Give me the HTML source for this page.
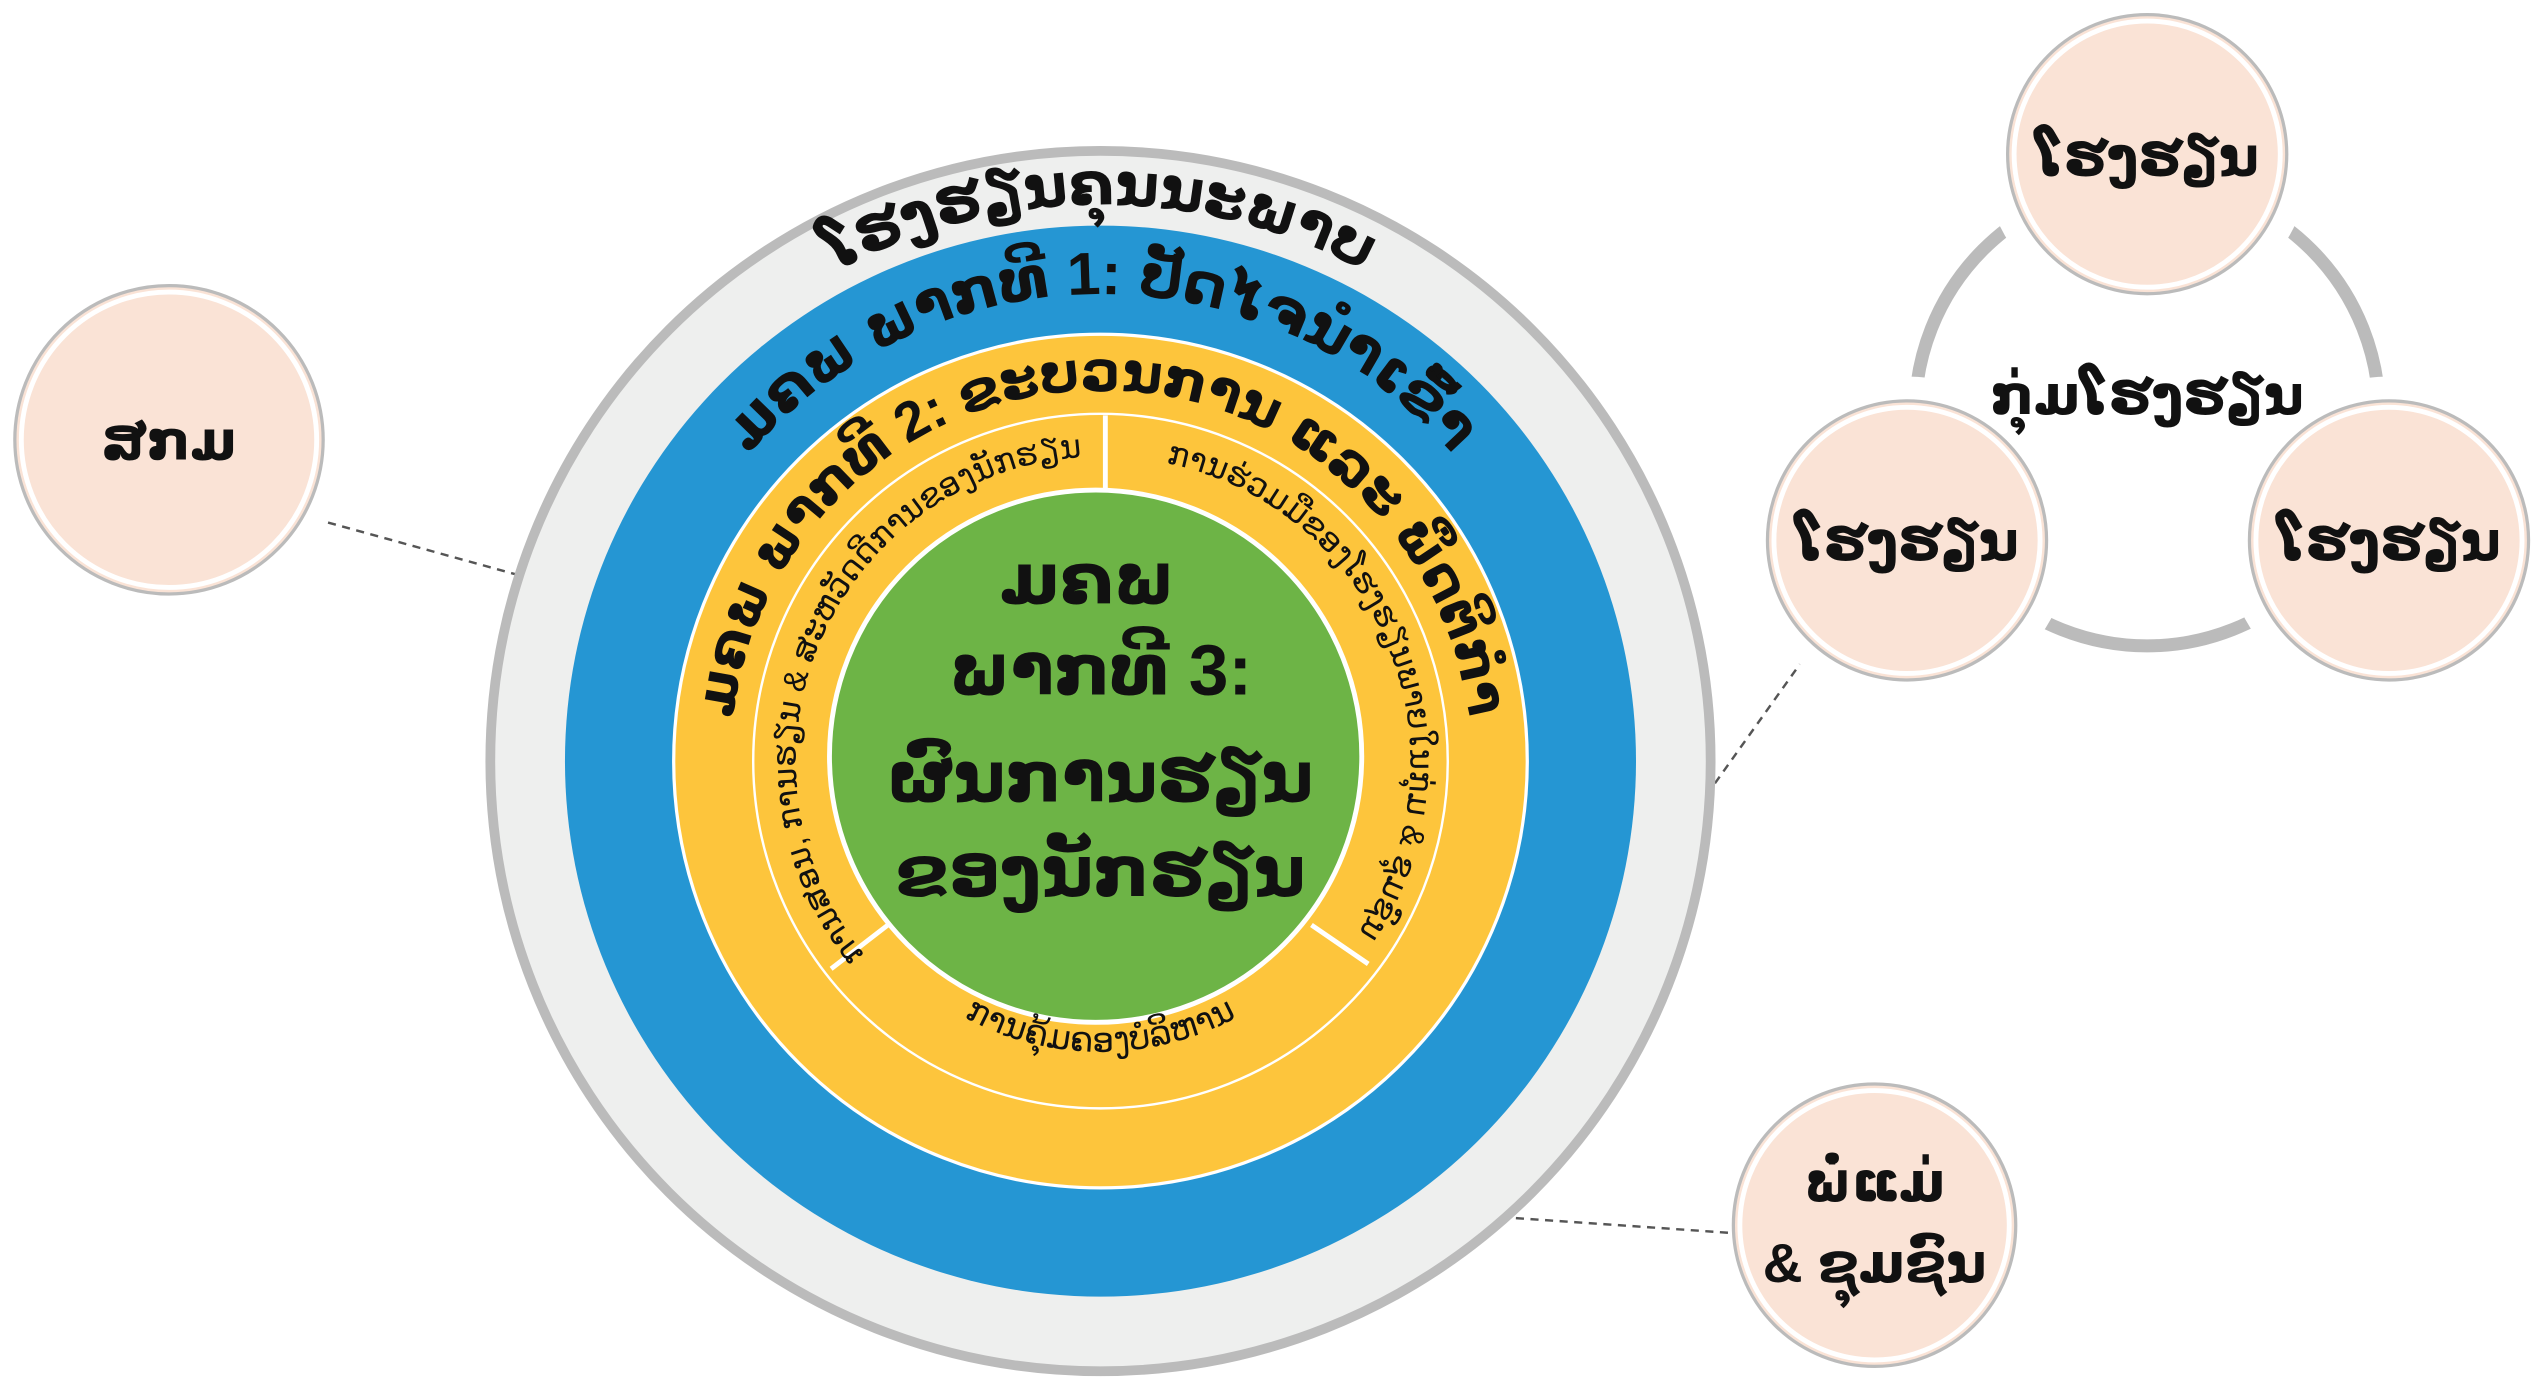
<!DOCTYPE html>
<html><head><meta charset="utf-8"><style>
html,body{margin:0;padding:0;background:#fff;}
svg{display:block;}
text{font-family:"Liberation Sans","DejaVu Sans","Noto Sans CJK SC",sans-serif;}
</style></head><body>
<svg width="2545" height="1381" viewBox="0 0 1568 851" xmlns="http://www.w3.org/2000/svg">
<defs>
<path id="p0" d="M381,297.5 A343,343 0 0 1 975,297.5"/>
<path id="p1" d="M400,394 A288,288 0 0 1 956,394"/>
<path id="p2" d="M464,547 A228,228 0 1 1 892,547"/>
<path id="p3" d="M530,585 A188,188 0 0 1 662,282"/>
<path id="p4" d="M694,282 A188,188 0 0 1 822,594"/>
<path id="p5" d="M552,595 A176,176 0 0 0 804,595"/>
</defs>
<g stroke="#555" stroke-width="1.5" stroke-dasharray="5,4" fill="none">
<line x1="202" y1="322" x2="318" y2="354"/>
<line x1="1117" y1="398" x2="1055" y2="485"/>
<line x1="925" y1="750" x2="1070" y2="760"/>
</g>
<circle cx="678" cy="469" r="376" fill="#eeefee" stroke="#bbbbbb" stroke-width="6"/>
<circle cx="678" cy="469" r="330" fill="#2596d3"/>
<circle cx="678" cy="469" r="263" fill="#fdc53c" stroke="#fff" stroke-width="2"/>
<circle cx="678" cy="469" r="214" fill="none" stroke="#fff" stroke-width="1.5"/>
<g stroke="#fff" stroke-width="3">
<line x1="681" y1="256" x2="681" y2="302"/>
<line x1="512" y1="597" x2="547" y2="570"/>
<line x1="808" y1="570" x2="843" y2="594"/>
</g>
<circle cx="675" cy="466" r="164" fill="#6db446" stroke="#fff" stroke-width="3"/>
<text font-size="37" font-weight="bold" fill="#111"><textPath href="#p0" startOffset="50%" text-anchor="middle">ໂຮງຮຽນຄຸນນະພາບ</textPath></text>
<text font-size="37" font-weight="bold" fill="#111"><textPath href="#p1" startOffset="50%" text-anchor="middle">ມຄພ ພາກທີ 1: ປັດໄຈນຳເຂົ້າ</textPath></text>
<text font-size="34" font-weight="bold" fill="#111"><textPath href="#p2" startOffset="50%" text-anchor="middle">ມຄພ ພາກທີ 2: ຂະບວນການ ແລະ ພຶດຕິກຳ</textPath></text>
<text font-size="20" fill="#111"><textPath href="#p3" startOffset="50%" text-anchor="middle">ການສອນ, ການຮຽນ &amp; ສະຫວັດດີການຂອງນັກຮຽນ</textPath></text>
<text font-size="20" fill="#111"><textPath href="#p4" startOffset="50%" text-anchor="middle">ການຮ່ວມມືຂອງໂຮງຮຽນພາຍໃນກຸ່ມ &amp; ຊຸມຊົນ</textPath></text>
<text font-size="21" fill="#111"><textPath href="#p5" startOffset="50%" text-anchor="middle">ການຄຸ້ມຄອງບໍລິຫານ</textPath></text>
<g font-size="44" font-weight="bold" fill="#111" text-anchor="middle">
<text x="670" y="372">ມຄພ</text>
<text x="678" y="428">ພາກທີ 3:</text>
<text x="678" y="494">ຜົນການຮຽນ</text>
<text x="678" y="552">ຂອງນັກຮຽນ</text>
</g>
<circle cx="1323" cy="255" r="143" fill="none" stroke="#bbbbbb" stroke-width="8"/>
<g fill="#fff" stroke="#fff" stroke-width="2">
<circle cx="1323" cy="95" r="100"/>
<circle cx="1175" cy="333" r="100"/>
<circle cx="1472" cy="333" r="100"/>
</g>
<g fill="#fae3d6" stroke="#bbbbbb" stroke-width="2">
<circle cx="104" cy="271" r="95"/>
<circle cx="1323" cy="95" r="86"/>
<circle cx="1175" cy="333" r="86"/>
<circle cx="1472" cy="333" r="86"/>
<circle cx="1155" cy="755" r="87"/>
</g>
<g fill="none" stroke="#fff" stroke-width="3">
<circle cx="104" cy="271" r="91"/>
<circle cx="1323" cy="95" r="82"/>
<circle cx="1175" cy="333" r="82"/>
<circle cx="1472" cy="333" r="82"/>
<circle cx="1155" cy="755" r="83"/>
</g>
<g font-size="34" font-weight="bold" fill="#111" text-anchor="middle">
<text x="104" y="283">ສກມ</text>
<text x="1323" y="108">ໂຮງຮຽນ</text>
<text x="1175" y="345">ໂຮງຮຽນ</text>
<text x="1472" y="345">ໂຮງຮຽນ</text>
<text x="1323" y="255">ກຸ່ມໂຮງຮຽນ</text>
<text x="1155" y="740">ພໍ່ແມ່</text>
<text x="1155" y="790">&amp; ຊຸມຊົນ</text>
</g>
</svg>
</body></html>
